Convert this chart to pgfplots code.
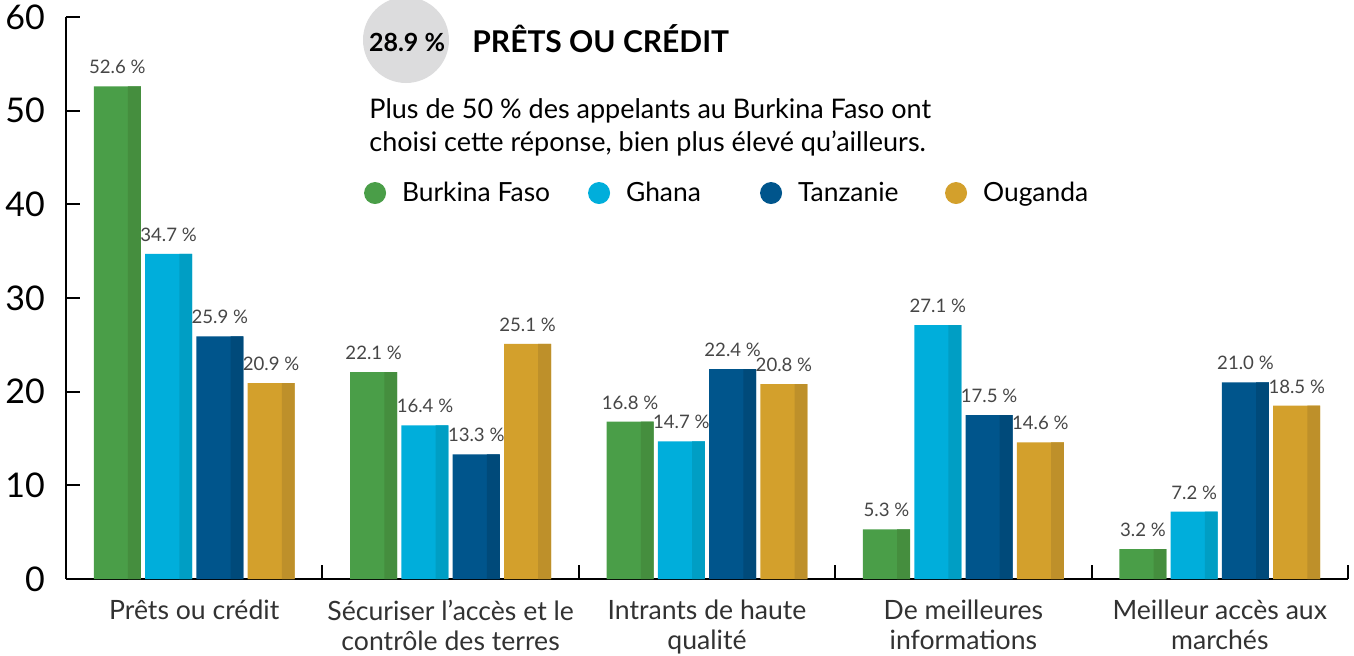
\documentclass[border=0pt]{standalone}
\usepackage{fontspec}
\setmainfont{Lato}
\usepackage{pgfplots}
\pgfplotsset{compat=1.18}
\definecolor{cGreen}{RGB}{74,158,72}
\definecolor{dGreen}{RGB}{69,142,62}
\definecolor{cCyan}{RGB}{0,174,219}
\definecolor{dCyan}{RGB}{0,158,196}
\definecolor{cNavy}{RGB}{0,85,140}
\definecolor{dNavy}{RGB}{0,74,122}
\definecolor{cGold}{RGB}{211,160,44}
\definecolor{dGold}{RGB}{190,144,42}
\definecolor{badge}{RGB}{220,220,221}
\definecolor{labgray}{RGB}{50,50,50}
\definecolor{vallab}{RGB}{70,70,70}
\pgfplotsset{circle legend/.style={legend image code/.code={\fill[##1] (5.5pt,0pt) circle (5.5pt);}}}

\begin{document}
\begin{tikzpicture}
\useasboundingbox (-33pt,-38pt) rectangle (644pt,289.5pt);
\begin{axis}[
  at={(0pt,0pt)},anchor=south west,
  scale only axis,width=641pt,height=281pt,
  xmin=-0.5,xmax=4.5,ymin=0,ymax=60,
  axis x line=bottom,axis y line=left,
  axis line style={-,line width=1.25pt,black},
  /pgf/number format/assume math mode=true,
  ybar,bar width=0.1833,
  major tick length=0pt,
  minor tick length=7pt,
  minor tick style={line width=1pt,black},
  tick align=inside,
  xtick={0,1,2,3,4},
  minor xtick={0.5,1.5,2.5,3.5,4.5},
  ytick={0,10,20,30,40,50,60},
  minor ytick={10,20,30,40,50,60},
  xticklabels={Prêts ou crédit,Sécuriser l’accès et le\\contrôle des terres,Intrants de haute\\qualité,De meilleures\\informations,Meilleur accès aux\\marchés},
  x tick label style={align=center,font=\fontsize{13.3}{15}\selectfont,text=labgray,yshift=-7pt},
  y tick label style={font=\fontsize{17}{18}\selectfont,xshift=-7pt},
  nodes near coords={\pgfmathprintnumber[fixed,fixed zerofill,precision=1]{\pgfplotspointmeta}~\%},
  every node near coord/.append style={font=\fontsize{9.3}{11}\selectfont,text=vallab,inner sep=0pt,yshift=6pt},
  legend columns=4,
  legend style={at={(0.2325,0.6868)},anchor=west,draw=none,fill=none,inner sep=0pt,outer sep=0pt,
    nodes={inner sep=0pt},column sep=0pt,font=\fontsize{13.2}{15}\selectfont},
  legend cell align=left,
  clip=false,
]
\addplot[fill=cGreen,draw=none,bar shift=-0.3,circle legend]
  coordinates {(0,52.6) (1,22.1) (2,16.8) (3,5.3) (4,3.2)};
\addlegendentry{\hspace*{8pt}\makebox[93pt][l]{Burkina Faso}}
\addplot[fill=cCyan,draw=none,bar shift=-0.1,circle legend]
  coordinates {(0,34.7) (1,16.4) (2,14.7) (3,27.1) (4,7.2)};
\addlegendentry{\hspace*{8pt}\makebox[67pt][l]{Ghana}}
\addplot[fill=cNavy,draw=none,bar shift=0.1,circle legend]
  coordinates {(0,25.9) (1,13.3) (2,22.4) (3,17.5) (4,21.0)};
\addlegendentry{\hspace*{8pt}\makebox[73.5pt][l]{Tanzanie}}
\addplot[fill=cGold,draw=none,bar shift=0.3,circle legend]
  coordinates {(0,20.9) (1,25.1) (2,20.8) (3,14.6) (4,18.5)};
\addlegendentry{\hspace*{8pt}Ouganda}
% darker right-hand strips
\addplot[fill=dGreen,draw=none,bar shift=-0.2333,bar width=0.05,nodes near coords={},forget plot]
  coordinates {(0,52.6) (1,22.1) (2,16.8) (3,5.3) (4,3.2)};
\addplot[fill=dCyan,draw=none,bar shift=-0.0333,bar width=0.05,nodes near coords={},forget plot]
  coordinates {(0,34.7) (1,16.4) (2,14.7) (3,27.1) (4,7.2)};
\addplot[fill=dNavy,draw=none,bar shift=0.1667,bar width=0.05,nodes near coords={},forget plot]
  coordinates {(0,25.9) (1,13.3) (2,22.4) (3,17.5) (4,21.0)};
\addplot[fill=dGold,draw=none,bar shift=0.3667,bar width=0.05,nodes near coords={},forget plot]
  coordinates {(0,20.9) (1,25.1) (2,20.8) (3,14.6) (4,18.5)};
\end{axis}
\fill[badge] (170pt,269.5pt) circle (21.5pt);
\node[font=\bfseries\fontsize{12.5}{14}\selectfont,inner sep=0pt] at (170.5pt,268.5pt) {28.9 \%};
\node[font=\bfseries\fontsize{15}{17}\selectfont,anchor=base west,inner sep=0pt] at (203pt,263.5pt) {PRÊTS OU CRÉDIT};
\node[font=\fontsize{13.5}{16.5}\selectfont,anchor=base west,inner sep=0pt,align=left] at (151.5pt,214pt)
  {Plus de 50 \% des appelants au Burkina Faso ont\\choisi cette réponse, bien plus élevé qu’ailleurs.};
\end{tikzpicture}
\end{document}
